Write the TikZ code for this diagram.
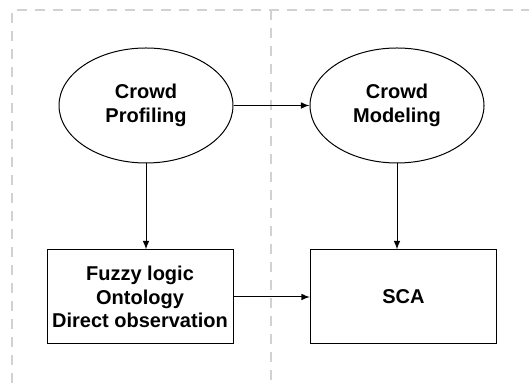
\documentclass[tikz,border=0pt]{standalone}
\usepackage{fontspec}
\setmainfont{Liberation Sans}
\usepackage{tikz}
\usetikzlibrary{
    arrows,
    shapes,
    shapes.geometric
}

\begin{document}
\begin{tikzpicture}[x=0.5pt, y=-0.5pt,
    font=\fontsize{10}{11.7}\selectfont\bfseries,
    lane/.style={draw=black!18, line width=1pt, dash pattern=on 5pt off 4pt},
    stage/.style={draw, ellipse, line width=0.5pt, inner sep=0pt, minimum width=87pt, minimum height=57.5pt, align=center},
    block/.style={draw, rectangle, line width=0.5pt, inner sep=0pt, minimum width=93pt, minimum height=47pt, align=center},
    flow/.style={->, >=latex, line width=0.5pt}]
            \useasboundingbox (0,0) rectangle (529,383);
            
            \draw[lane] (12,383) -- (12,10) -- (529,10);
            \draw[lane] (271,10) -- (271,383);
            
            \node[stage] (profiling) at (146,105.5) {Crowd\\Profiling};
            \node[stage] (modeling)  at (397,105.5) {Crowd\\Modeling};
            
            \node[block] (methods) at (140,297)   {Fuzzy logic\\Ontology\\Direct observation};
            \node[block] (sca)     at (403.5,297) {SCA};
            
            \draw[flow] (profiling)--(modeling);
            \draw[flow] (profiling)--(profiling |- methods.north);
            \draw[flow] (modeling)--(modeling |- sca.north);
            \draw[flow] (methods)--(sca);
\end{tikzpicture}
\end{document}
